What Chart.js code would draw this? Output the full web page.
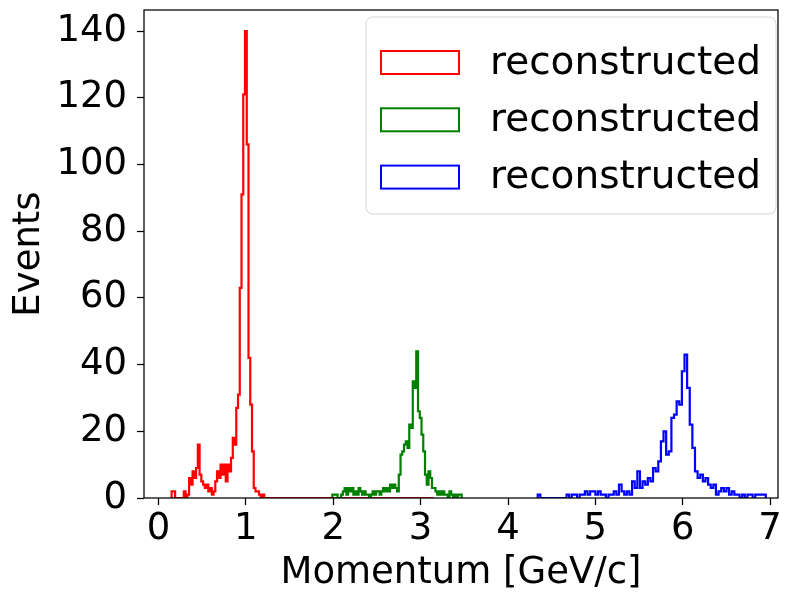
<!DOCTYPE html>
<html>
<head>
<meta charset="utf-8">
<script src="https://cdn.jsdelivr.net/npm/chart.js@4.4.1/dist/chart.umd.min.js"></script>
<style>
  html, body { margin: 0; padding: 0; background: #fff; }
  #wrap { width: 788px; height: 596px; }
</style>
</head>
<body>
<div id="wrap"><canvas id="hist-chart" width="788" height="596"></canvas></div>
<script>
// Reconstructed momentum, one step histogram per sample (counts per bin)
const seriesLabels = ["reconstructed", "reconstructed", "reconstructed"];
const seriesColors = ["#ff0000", "#008000", "#0000ff"];

// red sample: bins of 0.02 GeV/c from 0.15, empty range runs on to 3.15
const redStart = 0.15;
const redWidth = 0.02;
const redEnd = 3.15;
const redCounts = [
  2, 2, 0, 0, 0, 0, 0, 2, 0, 1,
  6, 4, 8, 6, 9, 16, 7, 5, 4, 3,
  4, 2, 3, 1, 2, 5, 8, 6, 10, 7,
  10, 5, 10, 8, 12, 18, 16, 27, 31, 63,
  91, 121, 140, 106, 42, 28, 14, 3, 2, 2,
  1, 0, 1
];

// green sample: bins of 0.02 GeV/c from 1.99
const greenStart = 1.99;
const greenWidth = 0.02;
const greenCounts = [
  1, 1, 1, 0, 0, 1, 2, 3, 1, 3,
  2, 3, 1, 2, 1, 3, 2, 1, 2, 1,
  1, 0, 1, 2, 1, 2, 2, 1, 2, 3,
  2, 3, 2, 4, 3, 4, 3, 2, 7, 13,
  14, 16, 17, 15, 22, 21, 35, 33, 44, 26,
  24, 19, 14, 7, 4, 8, 6, 3, 3, 2,
  1, 2, 1, 2, 1, 1, 0, 2, 1, 0,
  1, 0, 1, 1
];

// blue sample: bins of 0.03 GeV/c from 4.34
const blueStart = 4.34;
const blueWidth = 0.03;
const blueCounts = [
  1, 0, 0, 0, 0, 0, 0, 0, 0, 0,
  0, 1, 0, 1, 1, 0, 1, 1, 2, 1,
  2, 2, 1, 2, 1, 1, 0, 1, 1, 2,
  1, 4, 2, 1, 2, 1, 5, 3, 8, 3,
  5, 4, 6, 5, 9, 8, 11, 17, 20, 13,
  14, 24, 25, 29, 28, 38, 43, 33, 22, 15,
  8, 6, 7, 5, 6, 4, 3, 4, 1, 2,
  3, 2, 3, 1, 2, 1, 1, 0, 1, 0,
  1, 1, 0, 1, 1, 1, 1
];

// axis limits and ticks
const xRange = [-0.166, 7.09];
const yRange = [0, 146.3];
const xStep = 1;
const yStep = 20;

const FONT = "'DejaVu Sans', sans-serif";

// outline of a histogram: up from zero at the first edge, down to zero at the last
const stepPoints = (start, width, counts, end) => {
  const pts = [{ x: start, y: 0 }];
  counts.forEach((c, i) => pts.push({ x: start + i * width, y: c }));
  const last = start + counts.length * width;
  pts.push({ x: last, y: 0 });
  if (end !== undefined && end > last) pts.push({ x: end, y: 0 });
  return pts;
};

const histograms = [
  stepPoints(redStart, redWidth, redCounts, redEnd),
  stepPoints(greenStart, greenWidth, greenCounts),
  stepPoints(blueStart, blueWidth, blueCounts)
];

// axes frame on all four sides plus a boxed legend in the upper right
const frameAndLegend = {
  id: "frameAndLegend",
  afterDatasetsDraw(chart) {
    const { ctx, chartArea: a } = chart;
    ctx.save();
    ctx.strokeStyle = "#000";
    ctx.lineWidth = 1.25;
    ctx.strokeRect(a.left, a.top, a.right - a.left, a.bottom - a.top);

    const box = { left: a.right - 412, top: a.top + 7, width: 410, height: 197 };
    ctx.beginPath();
    ctx.roundRect(box.left, box.top, box.width, box.height, 7);
    ctx.fillStyle = "rgba(255,255,255,0.8)";
    ctx.fill();
    ctx.strokeStyle = "#d4d4d4";
    ctx.lineWidth = 1;
    ctx.stroke();

    ctx.font = "39px " + FONT;
    ctx.textBaseline = "middle";
    ctx.textAlign = "left";
    chart.data.datasets.forEach((ds, i) => {
      const cy = box.top + 45.5 + i * 57.3;
      ctx.strokeStyle = ds.borderColor;
      ctx.lineWidth = 2;
      ctx.strokeRect(box.left + 15, cy - 11.5, 78, 23);
      ctx.fillStyle = "#000";
      ctx.fillText(ds.label, box.left + 124, cy + 1);
    });
    ctx.restore();
  }
};

new Chart(document.getElementById("hist-chart"), {
  type: "line",
  data: {
    datasets: histograms.map((pts, i) => ({
      label: seriesLabels[i],
      data: pts,
      borderColor: seriesColors[i],
      borderWidth: 2.2,
      stepped: true,
      pointRadius: 0,
      tension: 0,
      fill: false,
      order: 3 - i
    }))
  },
  options: {
    responsive: false,
    devicePixelRatio: 1,
    animation: false,
    events: [],
    layout: { padding: { top: 10, right: 10, left: 0, bottom: 0 } },
    plugins: {
      legend: { display: false },
      tooltip: { enabled: false }
    },
    scales: {
      x: {
        type: "linear",
        min: xRange[0],
        max: xRange[1],
        afterFit: (s) => {
          s.height = 98;
          s.paddingLeft = 0;
          s.paddingRight = 0;
        },
        border: { display: false },
        grid: { drawOnChartArea: false, drawTicks: true, tickLength: 7, tickColor: "#000", tickWidth: 1.25 },
        ticks: {
          stepSize: xStep,
          includeBounds: false,
          color: "#000",
          padding: 2,
          maxRotation: 0,
          font: { family: FONT, size: 37 }
        },
        title: {
          display: true,
          text: "Momentum [GeV/c]",
          color: "#000",
          padding: { top: 0, bottom: 0 },
          font: { family: FONT, size: 37 }
        }
      },
      y: {
        min: yRange[0],
        max: yRange[1],
        afterFit: (s) => {
          s.width = 144;
          s.paddingTop = 0;
          s.paddingBottom = 0;
        },
        border: { display: false },
        grid: { drawOnChartArea: false, drawTicks: true, tickLength: 7, tickColor: "#000", tickWidth: 1.25 },
        ticks: {
          stepSize: yStep,
          includeBounds: false,
          color: "#000",
          padding: 10,
          font: { family: FONT, size: 37 }
        },
        title: {
          display: true,
          text: "Events",
          color: "#000",
          padding: { top: 7, bottom: 0 },
          font: { family: FONT, size: 37 }
        }
      }
    }
  },
  plugins: [frameAndLegend]
});
</script>
</body>
</html>
